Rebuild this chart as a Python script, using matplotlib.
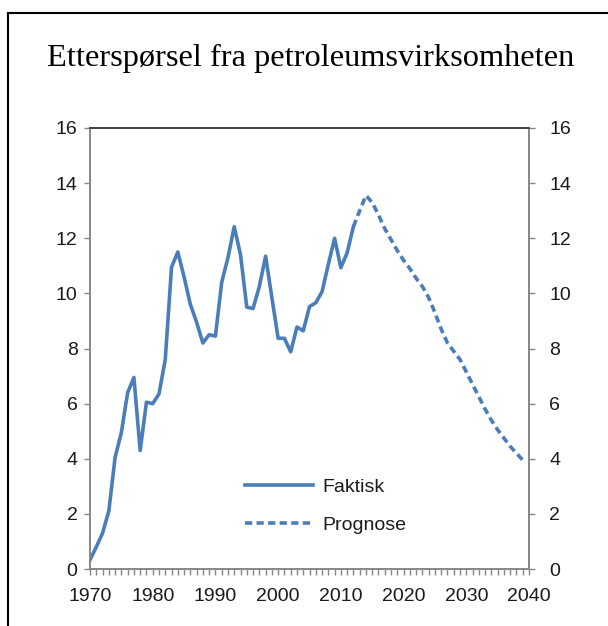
import matplotlib
matplotlib.use("Agg")
import matplotlib.pyplot as plt
from matplotlib.lines import Line2D
from matplotlib.ticker import MultipleLocator

# Data
years_actual = list(range(1970, 2013))
faktisk = [0.33, 0.8, 1.3, 2.1, 4.05, 4.95, 6.4, 6.95, 4.3, 6.05,
           6.0, 6.35, 7.6, 10.95, 11.5, 10.6, 9.6, 8.95, 8.2, 8.5,
           8.45, 10.4, 11.3, 12.42, 11.4, 9.5, 9.45, 10.25, 11.35, 9.85,
           8.37, 8.37, 7.88, 8.78, 8.64, 9.52, 9.66, 10.06, 11.05, 12.0,
           10.93, 11.47, 12.42]
years_prog = list(range(2012, 2040))
prognose = [12.42, 13.0, 13.55, 13.3, 12.85, 12.35, 11.95, 11.55, 11.2, 10.9,
            10.55, 10.25, 9.85, 9.3, 8.7, 8.2, 7.9, 7.6, 7.15, 6.7,
            6.25, 5.8, 5.4, 5.05, 4.75, 4.45, 4.2, 3.95]
xtick_years = list(range(1970, 2041, 10))
ytick_vals = list(range(0, 17, 2))
title = "Etterspørsel fra petroleumsvirksomheten"
labels = ["Faktisk", "Prognose"]

color = "#4a7ebb"
W, H = 608, 626
fig = plt.figure(figsize=(W / 100, H / 100), dpi=100)
ax = fig.add_axes([90 / W, (H - 569) / H, (529 - 90) / W, (569 - 128) / H])

ax.plot(years_actual, faktisk, color=color, lw=2.6, label=labels[0],
        solid_joinstyle="round")
ax.plot(years_prog, prognose, color=color, lw=2.6, label=labels[1],
        dashes=(2.0, 1.2))

ax.set_xlim(1970, 2040)
ax.set_ylim(0, 16)
ax.set_xticks(xtick_years)
ax.xaxis.set_minor_locator(MultipleLocator(1))
ax.set_yticks(ytick_vals)

tick_font = dict(family="Liberation Sans", size=14)
ax.set_xticklabels([str(y) for y in xtick_years], **tick_font, color="#1a1a1a")
ax.set_yticklabels([str(v) for v in ytick_vals], **tick_font, color="#1a1a1a")
ax.tick_params(axis="x", which="both", direction="out", length=4, width=1,
               color="#868686", pad=10)
ax.tick_params(axis="y", which="major", direction="out", length=4, width=1,
               color="#868686", pad=5)

ax2 = ax.twinx()
ax2.set_ylim(0, 16)
ax2.set_yticks(ytick_vals)
ax2.set_yticklabels([str(v) for v in ytick_vals], **tick_font, color="#1a1a1a")
ax2.tick_params(axis="y", direction="out", length=4, width=1, color="#868686", pad=10.5)

for a in (ax, ax2):
    for s in ("left", "right", "bottom"):
        a.spines[s].set_color("#868686")
        a.spines[s].set_linewidth(1.2)
    a.spines["top"].set_color("#404040")
    a.spines["top"].set_linewidth(1.2)

leg = ax.legend(loc="center left", bbox_to_anchor=(0.353, 0.143), frameon=False,
                prop=dict(family="Liberation Sans", size=14),
                handlelength=3.5, handletextpad=0.5, labelspacing=1.05,
                borderaxespad=0, borderpad=0)
for t in leg.get_texts():
    t.set_color("#1a1a1a")

fig.text(310.5 / W, 1 - 58 / H, title, ha="center", va="center",
         family="Liberation Serif", size=23.3, color="#000000")

# outer border (left and top)
fig.add_artist(Line2D([8 / W, 8 / W], [0, 1 - 13 / H], transform=fig.transFigure,
                      color="black", lw=1.5))
fig.add_artist(Line2D([8 / W, 1], [1 - 13 / H, 1 - 13 / H], transform=fig.transFigure,
                      color="black", lw=1.5))

fig.savefig("out.png", dpi=100, facecolor="white")
